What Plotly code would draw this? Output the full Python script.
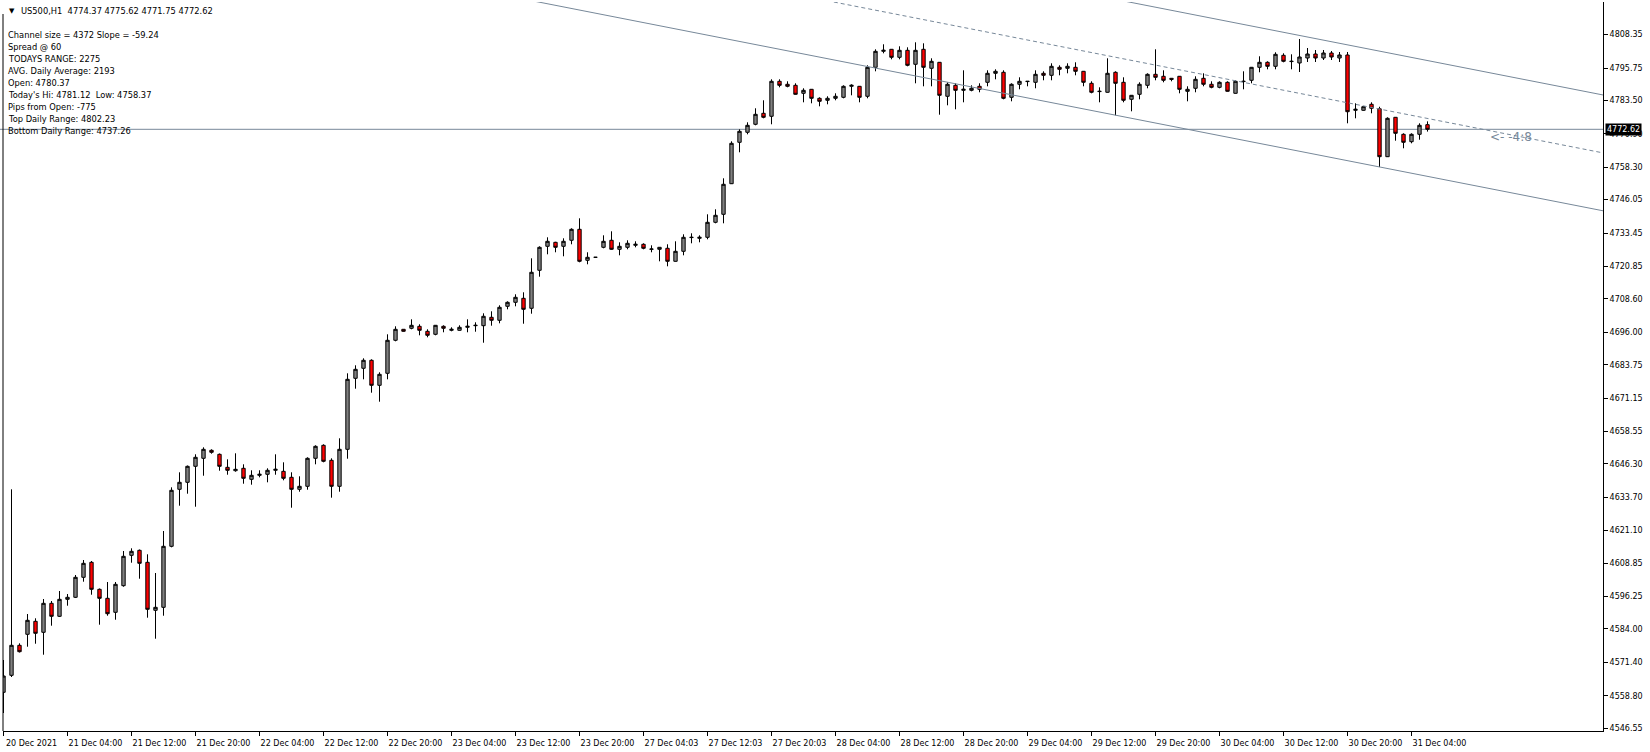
import plotly.graph_objects as go

# ---------------- data (US500, H1) ----------------
opens = [4560.09, 4566.50, 4577.83, 4581.98, 4586.89, 4582.74, 4593.68, 4588.78, 4595.19, 4595.95,
         4603.50, 4609.16, 4598.97, 4595.57, 4590.29, 4600.33, 4611.80, 4613.69, 4609.16, 4591.04,
         4592.17, 4615.20, 4636.72, 4639.36, 4645.40, 4648.42, 4651.44, 4649.93, 4645.02, 4643.74,
         4644.65, 4640.49, 4642.00, 4642.38, 4643.89, 4643.51, 4641.25, 4636.72, 4637.85, 4648.42,
         4653.33, 4647.67, 4637.85, 4651.82, 4678.62, 4682.40, 4685.42, 4675.98, 4680.51, 4692.97,
         4697.12, 4697.50, 4698.25, 4696.36, 4695.23, 4698.25, 4696.74, 4696.74, 4697.87, 4698.48,
         4698.48, 4701.65, 4700.52, 4705.80, 4707.31, 4708.82, 4705.05, 4719.39, 4728.45, 4729.96,
         4728.45, 4730.72, 4734.87, 4723.17, 4724.30, 4728.07, 4730.72, 4727.32, 4728.07, 4728.83,
         4729.21, 4727.32, 4727.32, 4727.70, 4722.79, 4726.56, 4731.74, 4731.47, 4731.85, 4737.51,
         4740.53, 4752.08, 4767.71, 4771.49, 4774.51, 4778.66, 4777.53, 4790.74, 4789.61, 4789.23,
         4786.21, 4787.72, 4784.32, 4783.57, 4784.32, 4784.70, 4788.85, 4788.85, 4785.08, 4796.02,
         4802.06, 4802.82, 4799.80, 4802.44, 4797.16, 4802.82, 4795.65, 4797.91, 4785.08, 4789.23,
         4787.34, 4787.34, 4788.85, 4790.36, 4793.76, 4794.14, 4784.70, 4789.61, 4790.63, 4790.36,
         4793.76, 4793.00, 4796.02, 4795.65, 4796.02, 4794.51, 4789.98, 4786.85, 4786.59, 4794.14,
         4790.36, 4783.94, 4785.83, 4789.23, 4793.38, 4792.63, 4791.87, 4792.63, 4786.96, 4788.10,
         4791.87, 4789.61, 4788.47, 4790.36, 4786.21, 4790.63, 4791.12, 4796.02, 4797.91, 4796.40,
         4800.55, 4798.18, 4797.65, 4799.53, 4801.04, 4799.53, 4801.42, 4799.53, 4800.67, 4779.79,
         4779.79, 4782.06, 4780.37, 4762.28, 4777.15, 4770.73, 4767.94, 4770.73, 4774.37]

highs = [4572.28, 4636.72, 4578.58, 4589.64, 4588.02, 4595.31, 4594.55, 4598.33, 4597.19, 4604.37,
         4610.03, 4609.65, 4599.27, 4601.72, 4601.72, 4613.43, 4614.45, 4613.99, 4612.18, 4605.12,
         4620.98, 4637.47, 4643.14, 4645.70, 4649.93, 4652.57, 4651.82, 4650.23, 4648.04, 4650.31,
         4646.16, 4643.89, 4643.89, 4644.65, 4649.93, 4646.91, 4643.14, 4641.63, 4648.80, 4653.33,
         4653.71, 4648.42, 4655.97, 4680.51, 4683.53, 4686.17, 4685.79, 4680.89, 4695.23, 4698.25,
         4697.23, 4700.89, 4699.01, 4697.12, 4698.74, 4698.63, 4697.87, 4698.63, 4700.89, 4699.76,
         4703.16, 4703.91, 4706.18, 4707.69, 4710.33, 4711.09, 4723.92, 4728.45, 4731.85, 4730.15,
         4731.47, 4735.25, 4739.02, 4726.19, 4724.41, 4732.60, 4734.11, 4729.96, 4730.72, 4730.34,
         4729.58, 4728.83, 4728.19, 4729.21, 4730.34, 4732.98, 4733.36, 4732.60, 4740.53, 4742.42,
         4754.12, 4768.09, 4772.62, 4775.26, 4780.55, 4783.57, 4791.49, 4791.49, 4790.74, 4789.98,
         4788.10, 4787.83, 4784.70, 4785.08, 4786.21, 4789.23, 4789.61, 4788.96, 4796.78, 4802.82,
         4804.71, 4802.93, 4803.95, 4803.57, 4805.46, 4805.08, 4799.42, 4798.02, 4790.36, 4789.98,
         4794.89, 4789.23, 4789.98, 4794.89, 4795.27, 4794.89, 4789.98, 4792.25, 4790.85, 4794.89,
         4794.51, 4797.53, 4796.78, 4797.53, 4797.91, 4794.63, 4790.74, 4788.47, 4799.42, 4794.51,
         4792.25, 4785.56, 4790.36, 4793.76, 4802.82, 4794.89, 4791.99, 4792.74, 4788.85, 4792.63,
         4793.76, 4790.74, 4790.74, 4790.74, 4791.12, 4794.51, 4796.14, 4800.18, 4798.29, 4801.69,
         4801.31, 4800.93, 4806.71, 4803.31, 4802.55, 4802.55, 4802.18, 4801.80, 4801.80, 4782.43,
         4781.30, 4782.81, 4781.12, 4777.15, 4777.26, 4771.11, 4771.11, 4774.88, 4775.62]

lows = [4552.27, 4565.86, 4575.11, 4577.30, 4578.43, 4574.28, 4585.23, 4588.51, 4592.78, 4595.68,
        4601.84, 4596.93, 4585.61, 4589.00, 4587.49, 4599.95, 4609.01, 4602.97, 4588.25, 4580.32,
        4589.00, 4614.82, 4630.53, 4635.06, 4630.15, 4641.85, 4650.16, 4643.74, 4642.23, 4643.36,
        4638.83, 4638.46, 4641.25, 4639.36, 4642.23, 4640.12, 4629.77, 4635.81, 4636.57, 4646.16,
        4646.91, 4633.55, 4635.81, 4648.27, 4674.70, 4678.24, 4673.19, 4669.79, 4678.24, 4692.59,
        4696.25, 4697.12, 4694.85, 4694.10, 4694.85, 4695.99, 4696.36, 4696.63, 4695.99, 4696.21,
        4692.06, 4698.48, 4699.38, 4704.67, 4705.80, 4699.23, 4703.01, 4716.98, 4725.43, 4726.19,
        4724.68, 4729.21, 4722.41, 4721.66, 4724.19, 4727.70, 4727.13, 4725.05, 4727.32, 4728.07,
        4727.32, 4726.19, 4722.79, 4720.90, 4722.68, 4725.05, 4729.58, 4729.96, 4731.09, 4737.13,
        4737.13, 4751.97, 4763.94, 4770.73, 4774.13, 4776.77, 4774.51, 4788.47, 4788.47, 4785.72,
        4782.81, 4782.43, 4781.30, 4782.06, 4783.57, 4784.32, 4785.45, 4782.81, 4784.32, 4794.51,
        4801.31, 4799.04, 4799.04, 4796.40, 4789.98, 4788.85, 4788.85, 4778.13, 4781.68, 4780.17,
        4782.81, 4786.96, 4786.59, 4788.85, 4791.49, 4783.94, 4783.19, 4787.72, 4788.85, 4788.10,
        4791.12, 4791.12, 4793.00, 4793.76, 4793.00, 4788.85, 4786.21, 4782.81, 4786.47, 4777.90,
        4782.81, 4779.41, 4783.94, 4788.10, 4791.12, 4790.36, 4790.74, 4786.21, 4783.19, 4786.59,
        4788.85, 4788.10, 4788.10, 4786.85, 4786.10, 4787.72, 4789.98, 4794.14, 4795.27, 4795.27,
        4797.91, 4795.27, 4794.25, 4798.02, 4798.02, 4798.78, 4798.78, 4798.02, 4774.88, 4776.77,
        4779.64, 4778.66, 4758.37, 4762.16, 4768.32, 4765.45, 4767.33, 4768.69, 4771.75]

closes = [4566.24, 4577.83, 4575.41, 4587.27, 4582.36, 4593.68, 4588.78, 4595.19, 4595.95, 4603.50,
          4608.78, 4598.97, 4595.57, 4589.76, 4600.86, 4611.43, 4613.31, 4608.78, 4591.42, 4592.17,
          4615.20, 4636.34, 4639.36, 4645.40, 4648.80, 4651.82, 4650.69, 4645.40, 4643.89, 4644.27,
          4640.87, 4642.00, 4642.38, 4643.89, 4644.27, 4640.87, 4636.72, 4637.85, 4648.42, 4652.95,
          4647.29, 4637.85, 4651.82, 4678.24, 4682.02, 4685.42, 4675.98, 4680.13, 4692.97, 4697.12,
          4696.36, 4698.63, 4696.74, 4694.85, 4698.63, 4697.50, 4697.12, 4697.87, 4698.25, 4698.63,
          4702.03, 4700.52, 4705.42, 4707.31, 4709.20, 4704.67, 4718.64, 4728.07, 4730.34, 4728.07,
          4730.34, 4734.87, 4722.79, 4724.30, 4724.30, 4730.34, 4727.32, 4728.45, 4729.58, 4729.21,
          4727.70, 4727.43, 4728.07, 4722.79, 4726.56, 4731.85, 4731.85, 4731.85, 4737.51, 4740.15,
          4751.86, 4767.33, 4771.86, 4774.13, 4778.28, 4777.15, 4790.74, 4789.23, 4788.85, 4785.83,
          4787.34, 4784.32, 4783.19, 4784.32, 4785.08, 4788.85, 4789.23, 4784.70, 4796.02, 4802.06,
          4802.44, 4799.80, 4802.44, 4796.78, 4802.44, 4796.02, 4798.29, 4785.45, 4789.61, 4787.34,
          4787.72, 4788.10, 4787.72, 4793.76, 4794.51, 4784.32, 4789.61, 4790.74, 4790.74, 4793.38,
          4793.00, 4796.40, 4795.27, 4796.40, 4794.51, 4790.36, 4786.59, 4786.96, 4793.76, 4789.98,
          4783.57, 4785.45, 4789.61, 4793.38, 4792.25, 4791.12, 4791.49, 4787.72, 4787.72, 4791.49,
          4789.61, 4788.47, 4790.36, 4786.96, 4790.74, 4790.74, 4796.02, 4797.91, 4796.40, 4800.93,
          4798.29, 4798.29, 4799.91, 4801.04, 4799.53, 4801.42, 4799.91, 4800.67, 4779.26, 4780.17,
          4781.15, 4780.55, 4762.28, 4776.77, 4771.11, 4767.71, 4770.73, 4774.13, 4772.62]

bar_index = list(range(len(closes)))

x_tick_index = [0, 8, 16, 24, 32, 40, 48, 56, 64, 72, 80, 88, 96, 104, 112, 120, 128, 136, 144, 152, 160, 168, 176]
x_tick_labels = ["20 Dec 2021", "21 Dec 04:00", "21 Dec 12:00", "21 Dec 20:00", "22 Dec 04:00", "22 Dec 12:00",
                 "22 Dec 20:00", "23 Dec 04:00", "23 Dec 12:00", "23 Dec 20:00", "27 Dec 04:03", "27 Dec 12:03",
                 "27 Dec 20:03", "28 Dec 04:00", "28 Dec 12:00", "28 Dec 20:00", "29 Dec 04:00", "29 Dec 12:00",
                 "29 Dec 20:00", "30 Dec 04:00", "30 Dec 12:00", "30 Dec 20:00", "31 Dec 04:00"]

y_tick_values = [4808.35, 4795.75, 4783.50, 4770.90, 4758.30, 4746.05, 4733.45, 4720.85, 4708.60, 4696.00,
                 4683.75, 4671.15, 4658.55, 4646.30, 4633.70, 4621.10, 4608.85, 4596.25, 4584.00, 4571.40,
                 4558.80, 4546.55]

# regression channel (end points in bar index / price)
channel_x = [60, 200]
channel_upper = [4868.47, 4785.54]
channel_middle = [4846.61, 4763.68]
channel_lower = [4824.75, 4741.82]

last_price = 4772.62
channel_label = "<- -4:8"
channel_label_at = (185.6, 4769.6)

header_text = "US500,H1\u00a0\u00a04774.37 4775.62 4771.75 4772.62"
info_lines = ["Channel size = 4372 Slope = -59.24", "Spread @ 60", "TODAYS RANGE: 2275",
              "AVG. Daily Average: 2193", "Open: 4780.37", "Today's Hi: 4781.12\u00a0\u00a0Low: 4758.37",
              "Pips from Open: -775", "Top Daily Range: 4802.23", "Bottom Daily Range: 4737.26"]

# ---------------- layout constants ----------------
W, H = 1650, 752
ML, MR, MT, MB = 3, 47, 2, 21
PW, PH = W - ML - MR, H - MT - MB
FONT = "DejaVu Sans"
TXT = 8.3
SLATE = "#778899"


def px_x(px):
    return (px - ML) / PW


def px_y(py):
    return (H - MB - py) / PH


fig = go.Figure()

fig.add_trace(go.Candlestick(
    x=bar_index, open=opens, high=highs, low=lows, close=closes,
    increasing=dict(fillcolor="#808080", line=dict(color="black", width=1)),
    decreasing=dict(fillcolor="#ff0000", line=dict(color="black", width=1)),
    whiskerwidth=0, hoverinfo="skip", showlegend=False,
))

for ys, dash in [(channel_upper, "solid"), (channel_lower, "solid"), (channel_middle, "dash")]:
    fig.add_trace(go.Scatter(
        x=channel_x, y=ys, mode="lines",
        line=dict(color=SLATE, width=1, dash="4px,3px" if dash == "dash" else "solid"),
        hoverinfo="skip", showlegend=False,
    ))

shapes = [
    dict(type="line", xref="paper", yref="y", x0=-ML / PW, x1=1, y0=last_price, y1=last_price,
         line=dict(color=SLATE, width=1), layer="below"),
    dict(type="line", xref="paper", yref="paper", x0=0, x1=0, y0=0, y1=px_y(14),
         line=dict(color="black", width=1)),
]

annotations = []
annotations.append(dict(xref="paper", yref="paper", x=px_x(7), y=px_y(11), xanchor="left", yanchor="middle",
                        text="\u25bc", showarrow=False, font=dict(family=FONT, size=7, color="black")))
annotations.append(dict(xref="paper", yref="paper", x=px_x(19), y=px_y(11), xanchor="left", yanchor="middle",
                        text=header_text, showarrow=False, font=dict(family=FONT, size=TXT, color="black")))
for k, line in enumerate(info_lines):
    annotations.append(dict(xref="paper", yref="paper", x=px_x(6), y=px_y(35 + 12 * k),
                            xanchor="left", yanchor="middle", text=line, showarrow=False,
                            font=dict(family=FONT, size=TXT, color="black")))
annotations.append(dict(xref="x", yref="y", x=channel_label_at[0], y=channel_label_at[1], xanchor="left",
                        yanchor="middle", text=channel_label, showarrow=False,
                        font=dict(family=FONT, size=12, color=SLATE)))
annotations.append(dict(xref="paper", yref="y", x=1, y=last_price, xanchor="left", yanchor="middle",
                        xshift=2, text="%.2f" % last_price, showarrow=False, bgcolor="black", borderpad=1,
                        font=dict(family=FONT, size=8, color="white")))

fig.update_layout(
    width=W, height=H,
    margin=dict(l=ML, r=MR, t=MT, b=MB, pad=0),
    paper_bgcolor="white", plot_bgcolor="white",
    boxgap=0.4,
    showlegend=False,
    shapes=shapes, annotations=annotations,
    xaxis=dict(range=[-0.0625, 199.9375], rangeslider=dict(visible=False), showgrid=False, zeroline=False,
               showline=True, linecolor="black", linewidth=1, mirror=False,
               ticks="outside", ticklen=4, tickcolor="black", tickwidth=1,
               tickvals=x_tick_index, ticktext=x_tick_labels, ticklabelshift=28,
               tickfont=dict(family=FONT, size=8, color="black"), fixedrange=True),
    yaxis=dict(range=[4545.48, 4820.675], side="right", showgrid=False, zeroline=False,
               showline=True, linecolor="black", linewidth=1,
               ticks="outside", ticklen=4, tickcolor="black", tickwidth=1,
               tickvals=y_tick_values, ticktext=["%.2f" % v for v in y_tick_values],
               tickfont=dict(family=FONT, size=8, color="black"), fixedrange=True),
)

fig.write_html("out.html", config={"displayModeBar": False},
               post_script="document.body.style.margin='0';document.body.style.overflow='hidden';")
